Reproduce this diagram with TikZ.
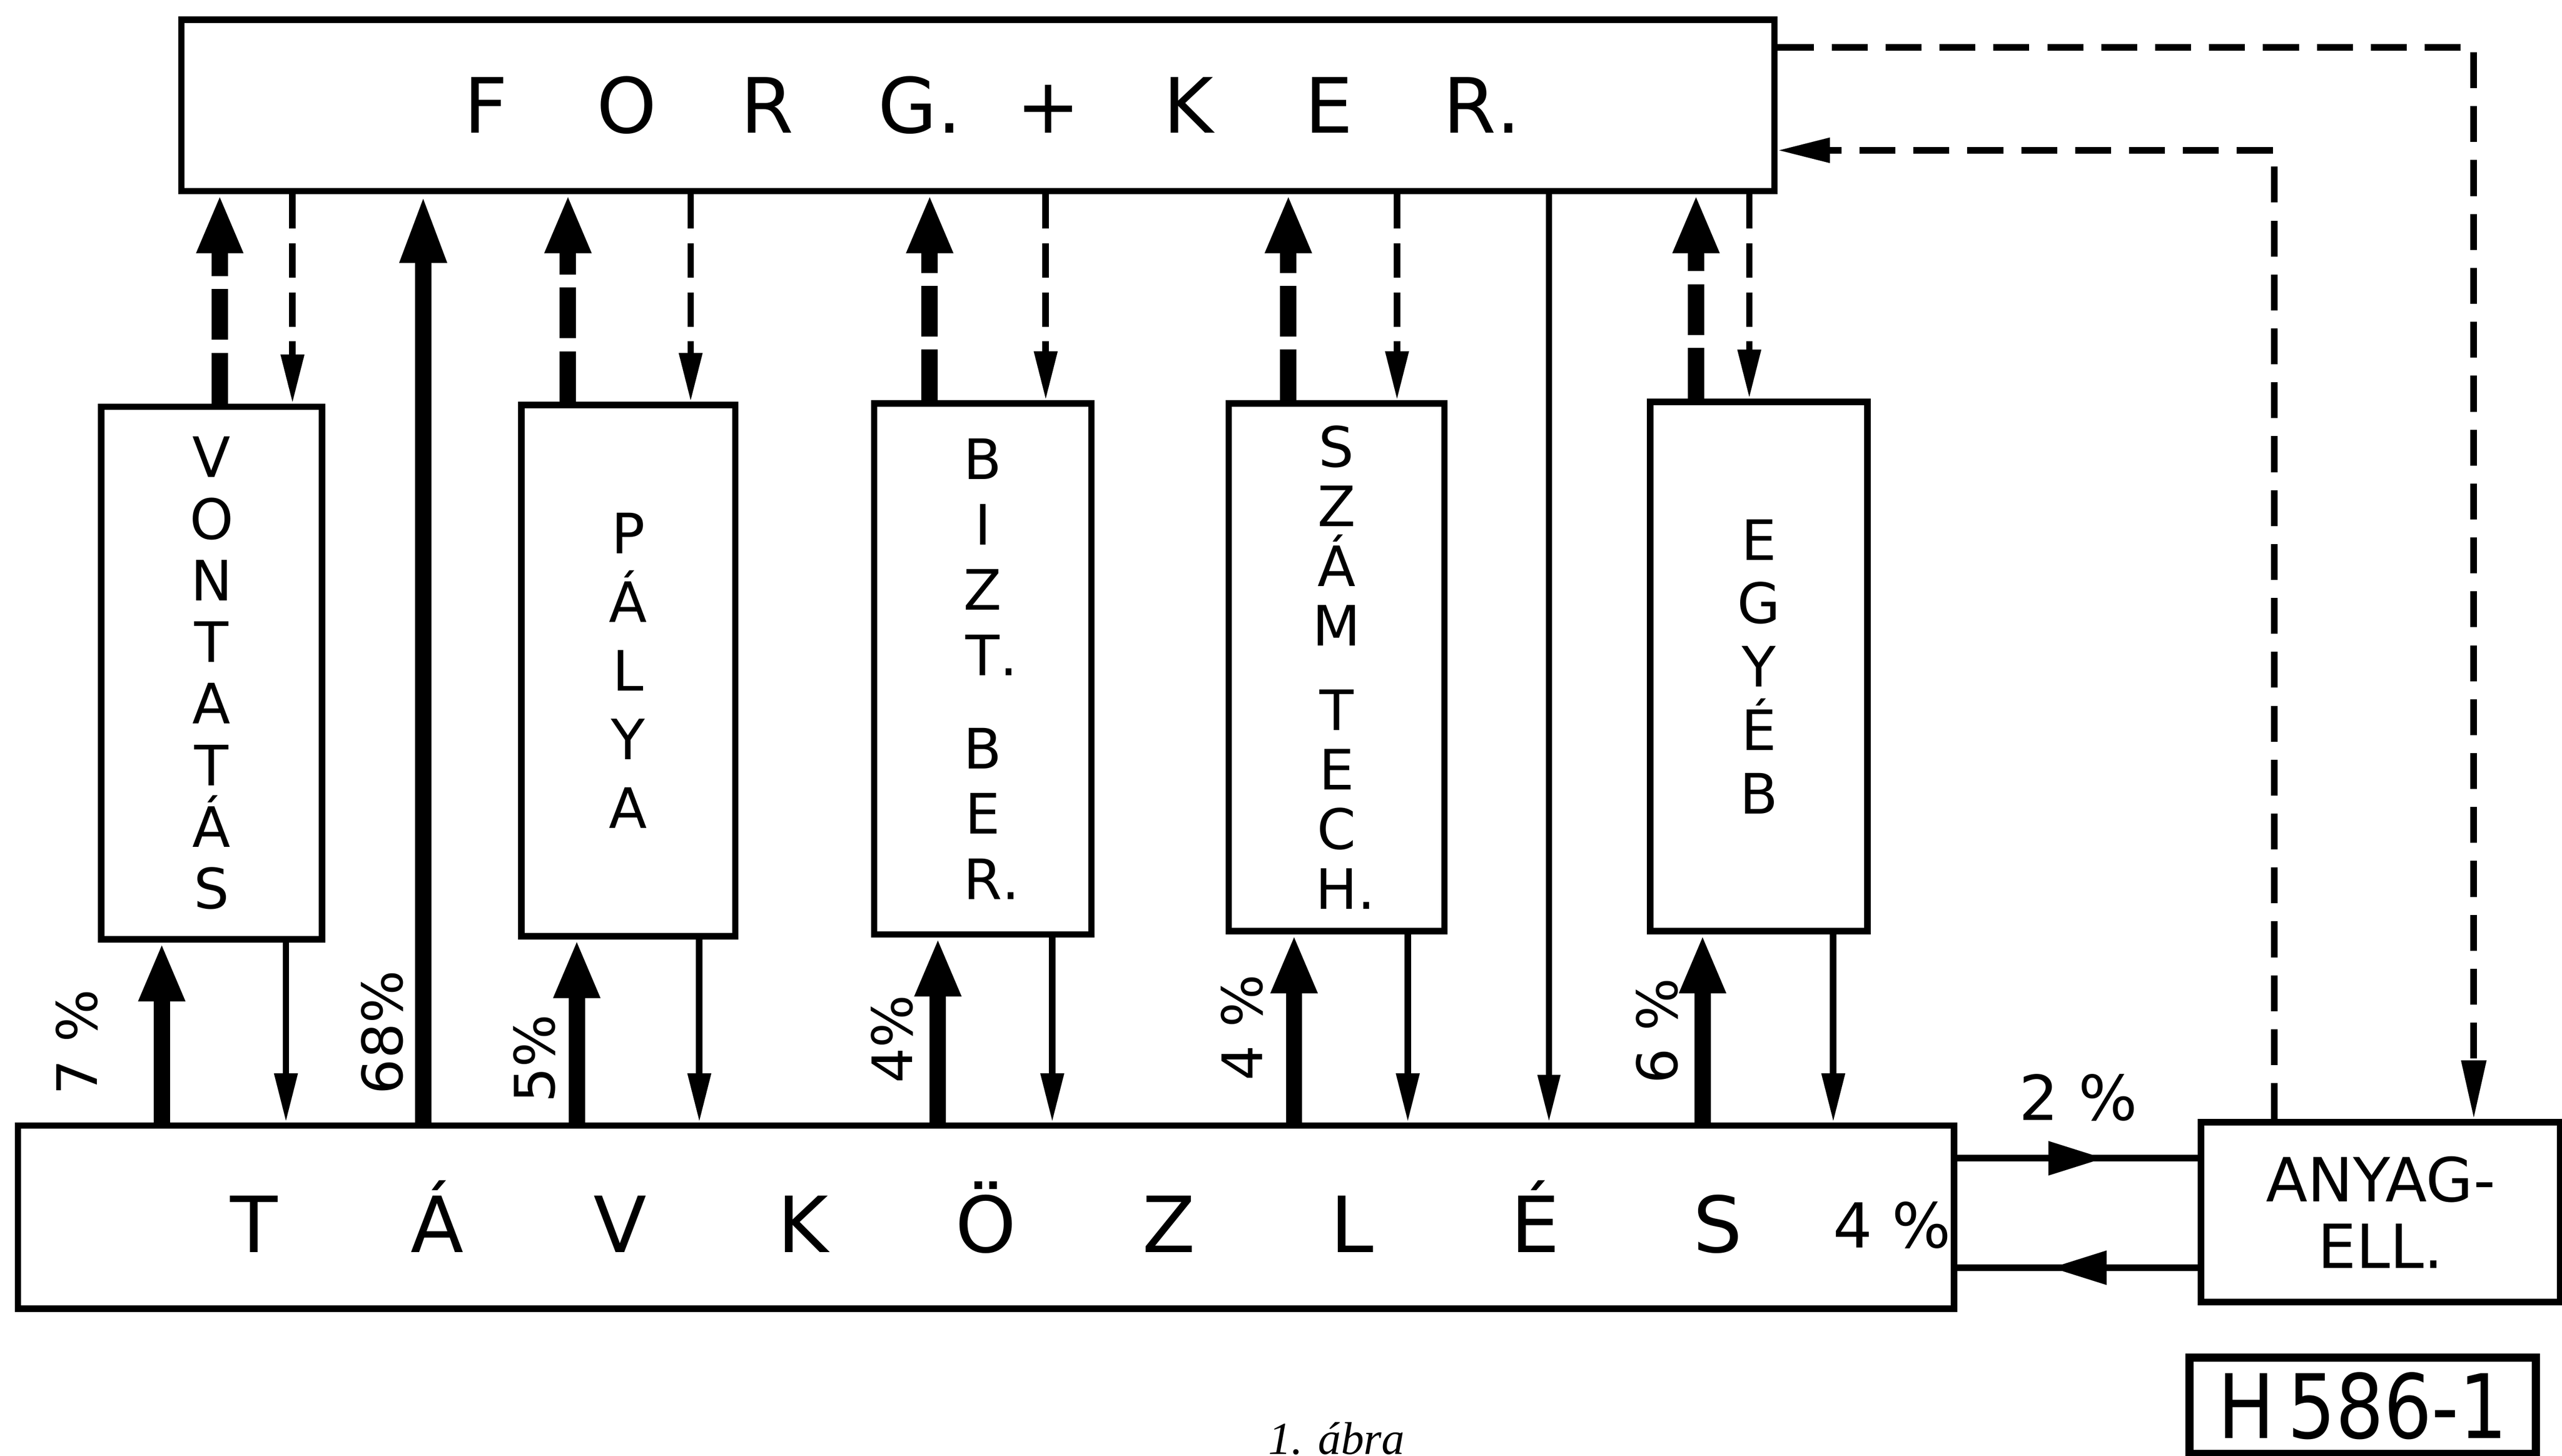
\documentclass[tikz,border=0pt]{standalone}
\usepackage{fontspec}
\setmainfont{DejaVu Sans}
\newfontfamily\captionserif{Liberation Serif}
\usepackage{graphicx}
\usetikzlibrary{arrows.meta}
\usetikzlibrary{decorations.markings}
\newcommand\forgch[1]{\makebox[8.6mm]{#1}}
\newcommand\tavch[1]{\makebox[11.2mm]{#1}}

\begin{document}
\begin{tikzpicture}[x=0.1mm,y=-0.1mm,
  box/.style={draw,line width=0.4mm,inner sep=0pt,align=center},
  thinline/.style={line width=0.4mm},
  fatline/.style={line width=1mm},
  fatup/.style={fatline,-{Triangle[length=3.6mm,width=2.6mm]}},
  fatdash/.style={fatup,dash pattern=on 3.1mm off 0.8mm},
  thindown/.style={thinline,-{Triangle[length=3mm,width=1.35mm]}},
  thindash/.style={thindown,dash pattern=on 2.1mm off 0.9mm},
  loopdash/.style={thinline,dash pattern=on 2.2mm off 1.1mm},
  midtip/.style={thinline,postaction={decorate},decoration={markings,
    mark=at position 0.61 with {\arrow{Triangle[length=3.4mm,width=2mm]}}}},
  lbl/.style={inner sep=0pt,font=\fontsize{10.8}{12}\selectfont},
  pct/.style={inner sep=0pt,rotate=90,font=\fontsize{9.7}{11}\selectfont}]
  \useasboundingbox (0,0) rectangle (1568,891);
  \node[box,minimum width=97.5mm,minimum height=10.5mm,font=\fontsize{13.3}{16}\selectfont] (forg) at (598.5,64.5)
    {\forgch{F}\forgch{O}\forgch{R}\forgch{G\rlap{.}}\forgch{+}\forgch{K}\forgch{E}\forgch{R\rlap{.}}};
  \node[box,minimum width=13.5mm,minimum height=32.6mm,font=\fontsize{9.7}{10.73}\selectfont] (vont) at (129.5,412)
    {V\\O\\N\\T\\A\\T\\Á\\S};
  \node[box,minimum width=13.1mm,minimum height=32.5mm,font=\fontsize{9.7}{11.95}\selectfont] (palya) at (384.5,410.5)
    {P\\Á\\L\\Y\\A};
  \node[box,minimum width=13.3mm,minimum height=32.5mm,font=\fontsize{9.7}{11.38}\selectfont] (bizt) at (601.5,409.5)
    {B\\I\\Z\\T\rlap{.}\\[1.7mm]B\\E\\R\rlap{.}};
  \node[box,minimum width=13.2mm,minimum height=32.3mm,font=\fontsize{9.7}{10.39}\selectfont] (szam) at (818,408.5)
    {S\\Z\\Á\\M\\[1.5mm]T\\E\\C\\H\rlap{.}};
  \node[box,minimum width=13.3mm,minimum height=32.4mm,font=\fontsize{9.7}{11.04}\selectfont] (egyeb) at (1076.5,408)
    {E\\G\\Y\\É\\B};
  \node[box,minimum width=118.5mm,minimum height=11.2mm,font=\fontsize{13.5}{16}\selectfont] (tav) at (603.5,745)
    {\tavch{T}\tavch{Á}\tavch{V}\tavch{K}\tavch{Ö}\tavch{Z}\tavch{L}\tavch{É}\tavch{S}};
  \node[lbl] (p4t) at (1158,750) {4 \%};
  \node[box,minimum width=22mm,minimum height=11mm,font=\fontsize{10.6}{11.6}\selectfont] (anyag) at (1457,742)
    {ANYAG-\\ELL.};
  \node[box,line width=0.5mm,minimum width=21.2mm,minimum height=5.9mm,font=\fontsize{15.5}{18}\selectfont] (hnum) at (1446,860.5)
    {\scalebox{0.85}[1]{H\,586-1}};
  \node[inner sep=0pt,anchor=base,font=\captionserif\itshape\fontsize{8}{9}\selectfont] (cap) at (818,890) {1. ábra};

  \coordinate (u1) at (134.5,0);  \coordinate (d1) at (179,0);
  \coordinate (u2) at (347.6,0);  \coordinate (d2) at (422.7,0);
  \coordinate (u3) at (569,0);    \coordinate (d3) at (640,0);
  \coordinate (u4) at (788.5,0);  \coordinate (d4) at (855,0);
  \coordinate (u5) at (1038,0);   \coordinate (d5) at (1070.6,0);
  \coordinate (lu1) at (99,0);    \coordinate (ld1) at (175,0);
  \coordinate (lu2) at (353,0);   \coordinate (ld2) at (428,0);
  \coordinate (lu3) at (574,0);   \coordinate (ld3) at (644,0);
  \coordinate (lu4) at (792,0);   \coordinate (ld4) at (861.6,0);
  \coordinate (lu5) at (1042,0);  \coordinate (ld5) at (1122,0);
  \coordinate (m68) at (259,0);   \coordinate (mdn) at (948,0);

  \draw[fatdash] (vont.north -| u1) -- (forg.south -| u1);
  \draw[thindash] (forg.south -| d1) -- (vont.north -| d1);
  \draw[fatdash] (palya.north -| u2) -- (forg.south -| u2);
  \draw[thindash] (forg.south -| d2) -- (palya.north -| d2);
  \draw[fatdash] (bizt.north -| u3) -- (forg.south -| u3);
  \draw[thindash] (forg.south -| d3) -- (bizt.north -| d3);
  \draw[fatdash] (szam.north -| u4) -- (forg.south -| u4);
  \draw[thindash] (forg.south -| d4) -- (szam.north -| d4);
  \draw[fatdash] (egyeb.north -| u5) -- (forg.south -| u5);
  \draw[thindash] (forg.south -| d5) -- (egyeb.north -| d5);

  \draw[fatup] (tav.north -| lu1) -- (vont.south -| lu1);
  \draw[thindown] (vont.south -| ld1) -- (tav.north -| ld1);
  \draw[fatup] (tav.north -| lu2) -- (palya.south -| lu2);
  \draw[thindown] (palya.south -| ld2) -- (tav.north -| ld2);
  \draw[fatup] (tav.north -| lu3) -- (bizt.south -| lu3);
  \draw[thindown] (bizt.south -| ld3) -- (tav.north -| ld3);
  \draw[fatup] (tav.north -| lu4) -- (szam.south -| lu4);
  \draw[thindown] (szam.south -| ld4) -- (tav.north -| ld4);
  \draw[fatup] (tav.north -| lu5) -- (egyeb.south -| lu5);
  \draw[thindown] (egyeb.south -| ld5) -- (tav.north -| ld5);

  \draw[fatline,-{Triangle[length=4.2mm,width=2.6mm]}] (tav.north -| m68) -- (forg.south -| m68);
  \draw[thinline,-{Triangle[length=2.9mm,width=1.3mm]}] (forg.south -| mdn) -- (tav.north -| mdn);

  \node[pct] (p7) at (47,638) {7 \%};
  \node[pct] (p68) at (234,632) {68\%};
  \node[pct] (p5) at (327,648) {5\%};
  \node[pct] (p4a) at (546,636) {4\%};
  \node[pct] (p4b) at (760,629) {4 \%};
  \node[pct] (p6) at (1014,631) {6 \%};

  \coordinate (h1) at (1270,709);
  \coordinate (h2) at (1270,776);
  \draw[midtip] (tav.east |- h1) -- (anyag.west |- h1);
  \draw[midtip] (anyag.west |- h2) -- (tav.east |- h2);
  \node[lbl] (p2) at (1272,672) {2 \%};

  \coordinate (r1) at (1514,29);
  \coordinate (r2) at (1392,92);
  \draw[loopdash,-{Triangle[length=3.6mm,width=1.45mm]}] (forg.east |- r1) -- (r1) -- (anyag.north -| r1);
  \draw[loopdash,-{Triangle[length=3.2mm,width=1.45mm]}] (anyag.north -| r2) -- (r2) -- (forg.east |- r2);
\end{tikzpicture}
\end{document}
